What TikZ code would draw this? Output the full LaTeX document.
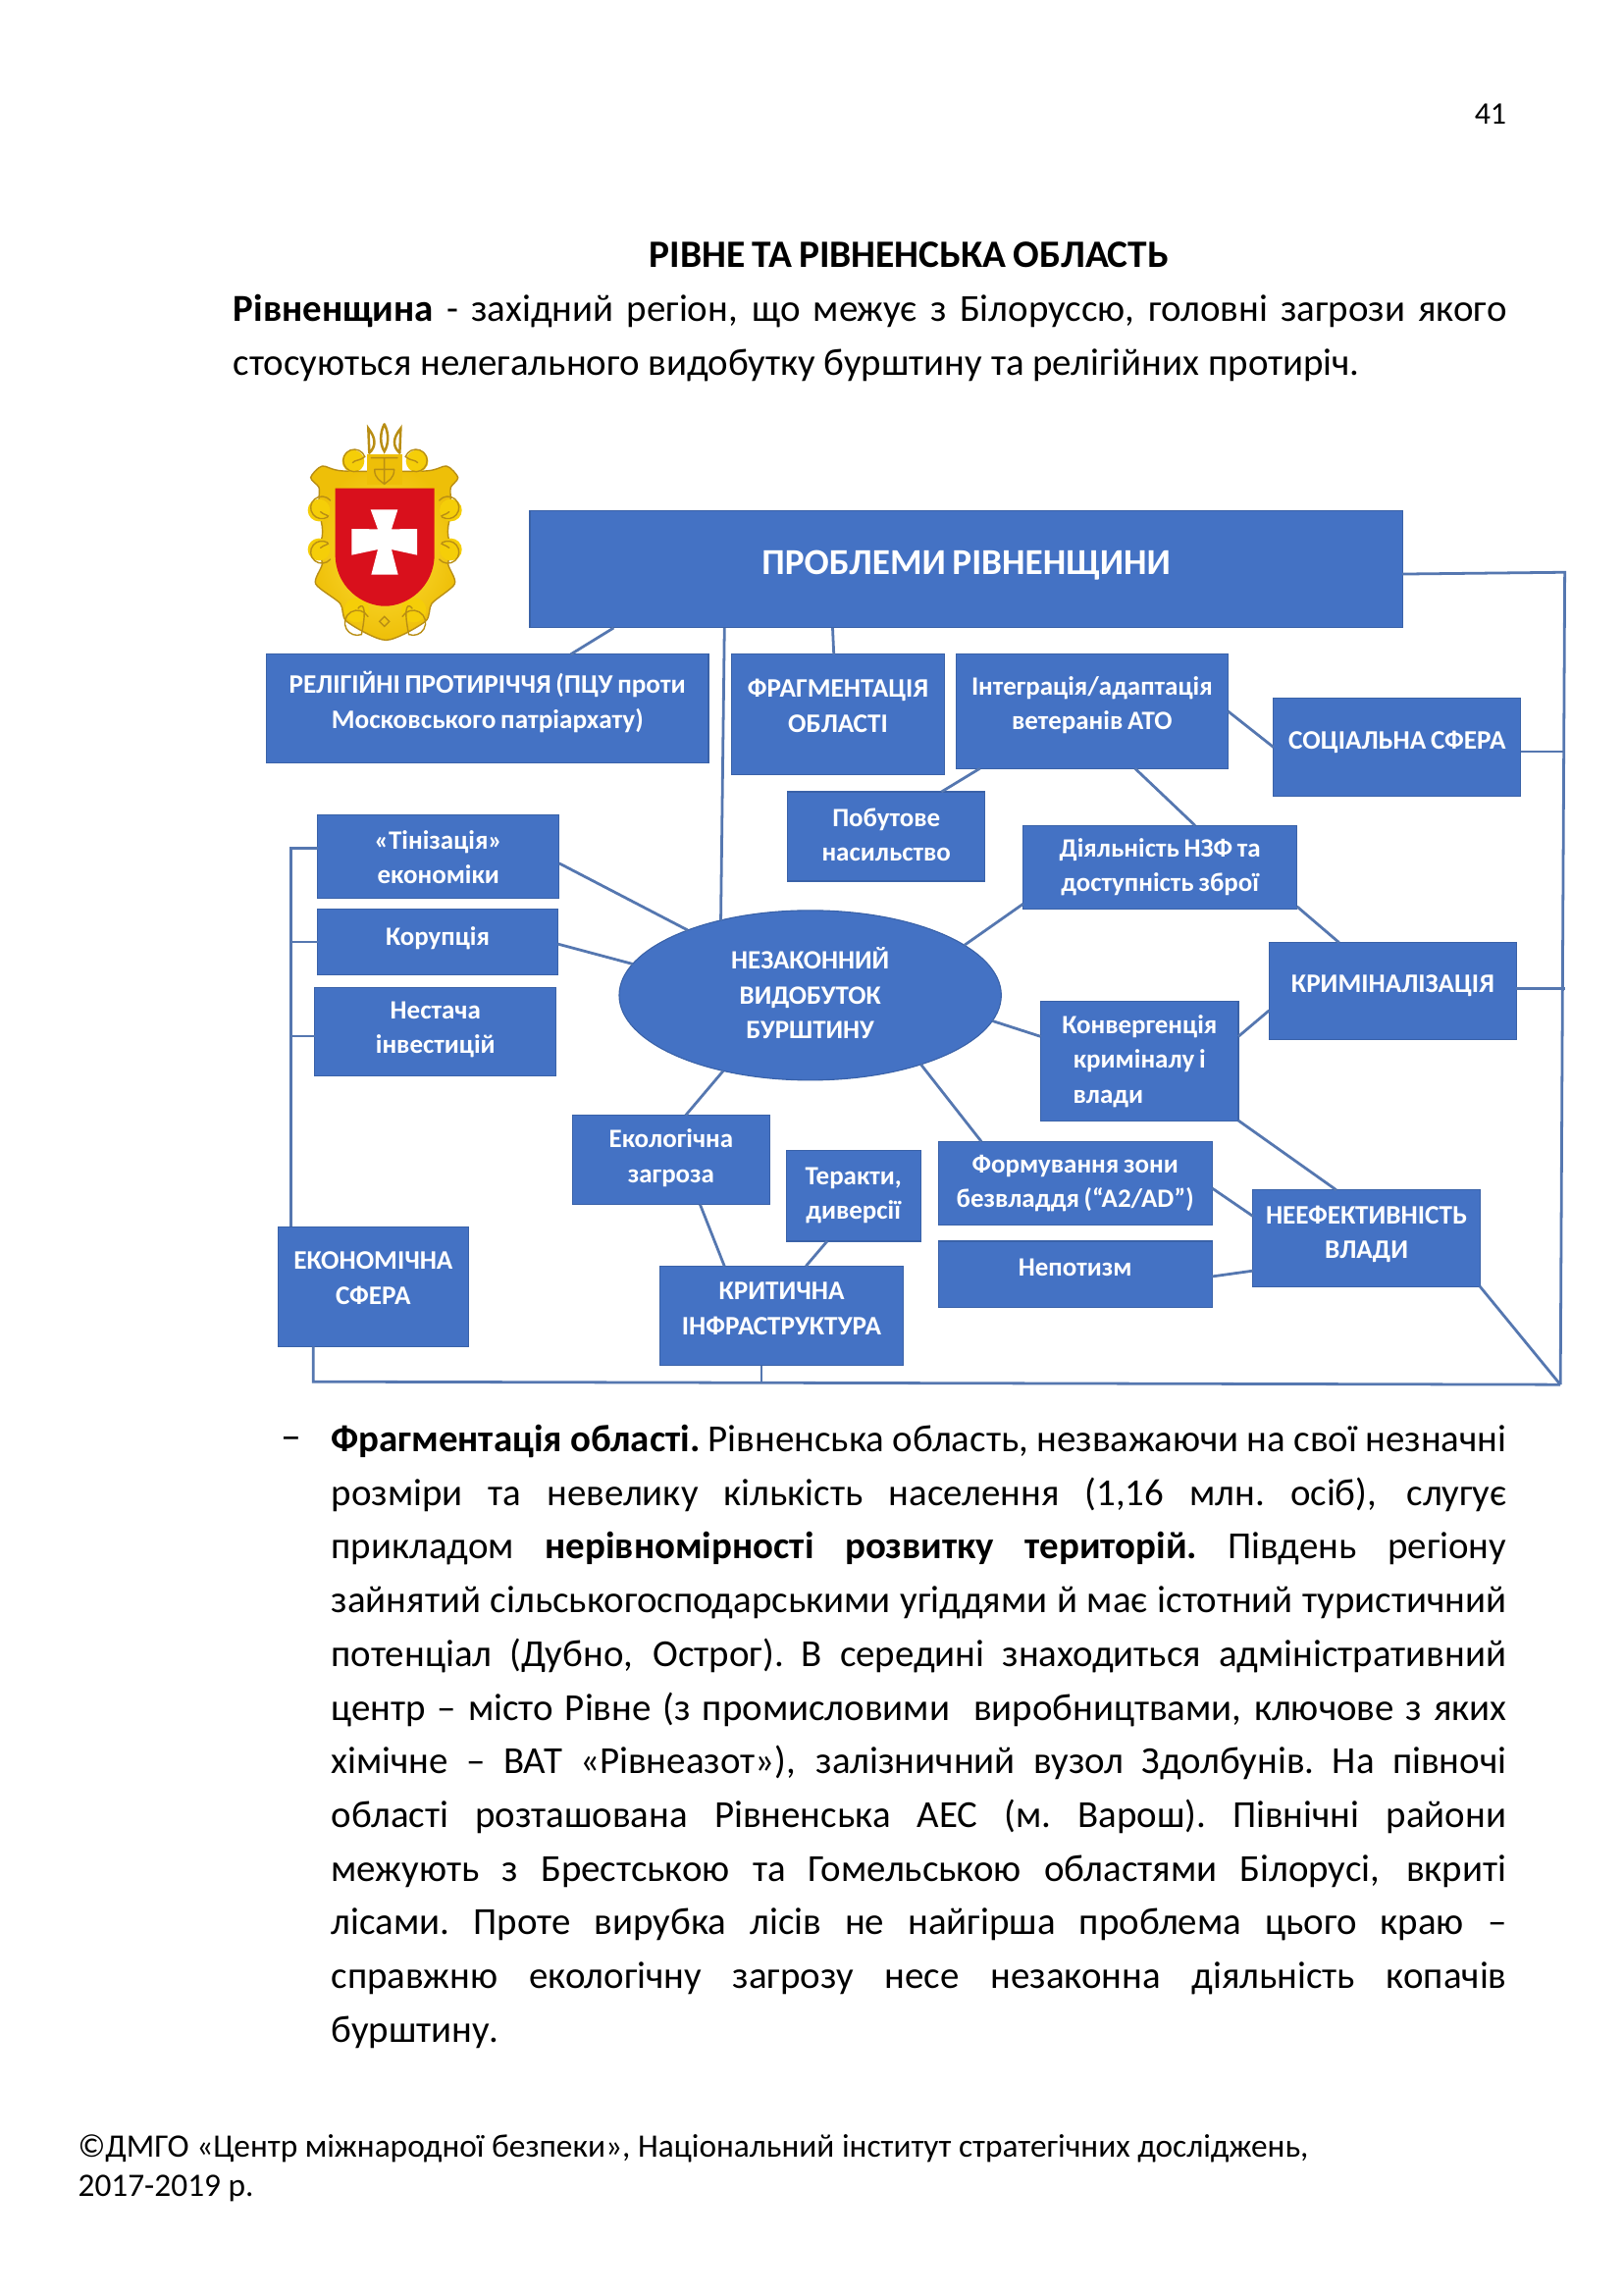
\documentclass[tikz,border=0pt]{standalone}
\usepackage{fontspec}
\setmainfont{Carlito}[WordSpace={.78,1.5,1}]
\usetikzlibrary{positioning,calc,shapes.geometric}
\definecolor{BoxBlue}{HTML}{4472C4}
\definecolor{BoxEdge}{HTML}{3A62A8}
\definecolor{LinkBlue}{HTML}{5577B0}
\definecolor{ShieldRed}{HTML}{D9101C}
\definecolor{Gold}{HTML}{F5CE08}
\definecolor{GoldLight}{HTML}{FFE13C}
\definecolor{GoldDark}{HTML}{EEBF08}
\definecolor{GoldEdge}{HTML}{B98E14}
\newcommand{\tightspace}{\spaceskip=.226em plus .4em minus .06em\xspaceskip=\spaceskip}
\newcommand{\justline}[2][431pt]{\hbox to #1{\tightspace #2}}
\tikzset{
  box size/.style 2 args={minimum width=#1*.5368pt,minimum height=#2*.5368pt},
  problem node/.style={draw=BoxEdge,fill=BoxBlue,align=center,text=white,
    font=\fontsize{9.7}{12.7}\selectfont\bfseries,inner sep=0pt,outer sep=0pt},
  sphere node/.style={problem node,font=\fontsize{9.8}{12.9}\selectfont\bfseries},
  problem head/.style={problem node,font=\fontsize{13.4}{17}\selectfont\bfseries},
  link/.style={draw=LinkBlue,line width=1pt},
  page text/.style={anchor=north west,inner sep=0pt,align=left,
    font=\fontsize{14}{19.7}\selectfont},
  foot text/.style={anchor=north west,inner sep=0pt,align=left,
    font=\fontsize{12}{14.5}\selectfont},
  gold part/.style={draw=GoldEdge,line width=.5pt,inner color=GoldLight,outer color=GoldDark},
  gold line/.style={draw=GoldEdge,line width=.5pt,line cap=round}
}
\begin{document}
\begin{tikzpicture}[x=.5368pt,y=-.5368pt]
  \useasboundingbox (0,0) rectangle (1109,1568);
  \fill[white] (0,0) rectangle (1109,1568);
  \node[anchor=east,inner sep=0pt,font=\fontsize{11.5}{14}\selectfont] (pagenum) at (1029.5,78) {41};
  \node[inner sep=0pt,font=\fontsize{14.2}{17}\selectfont\bfseries] (heading) at (621,174) {РІВНЕ ТА РІВНЕНСЬКА ОБЛАСТЬ};
  \node[page text,text width=467pt] (intro) at (159,201) {%
    \justline[467pt]{\textbf{Рівненщина} - західний регіон, що межує з Білоруссю, головні загрози якого}
    \justline[467pt]{стосуються нелегального видобутку бурштину та релігійних протиріч.\hfil}};

  \begin{scope}[shift={(201.1,284.9)},x=.12pt,y=-.12pt]
    \draw[gold line,line width=.9pt] (229,110) .. controls (250,90) and (250,65) .. (226,35) -- (229,110)
      (322,110) .. controls (300,90) and (300,65) .. (325,35) -- (322,110)
      (275,22) .. controls (260,50) and (262,85) .. (275,105) .. controls (288,85) and (290,50) .. (275,22);
    \path[gold part] plot[smooth cycle,tension=.45] coordinates {(85,150) (150,165) (400,165) (465,150) (500,185)
      (478,215) (478,250) (480,285) (470,335) (470,365) (480,405) (470,450) (490,510)
      (420,570) (400,625) (280,682) (160,625) (140,570) (65,510) (85,450) (75,405)
      (85,365) (85,335) (75,285) (75,250) (75,215) (50,185)};
    \fill[Gold] (180,135) circle (34) (375,135) circle (34)
      (75,285) circle (34) (478,285) circle (34) (75,405) circle (34) (478,405) circle (34)
      (190,590) circle (38) (365,590) circle (38);
    \draw[gold line] (195,165) arc[start angle=70,end angle=340,radius=34] .. controls (200,135) and (185,130) .. (178,140)
      (360,165) arc[start angle=110,end angle=-160,radius=34] .. controls (355,135) and (370,130) .. (377,140)
      (110,255) arc[start angle=-40,end angle=-300,radius=34] .. controls (110,300) and (90,300) .. (80,290)
      (443,255) arc[start angle=220,end angle=480,radius=34] .. controls (443,300) and (463,300) .. (473,290)
      (110,435) arc[start angle=40,end angle=300,radius=34] .. controls (110,390) and (90,390) .. (80,400)
      (443,435) arc[start angle=140,end angle=-120,radius=34] .. controls (443,390) and (463,390) .. (473,400)
      (225,610) arc[start angle=-30,end angle=-290,radius=38] .. controls (225,570) and (205,570) .. (195,585)
      (330,610) arc[start angle=210,end angle=470,radius=38] .. controls (330,570) and (350,570) .. (360,585);
    \fill[GoldDark] (222,115) rectangle (330,208);
    \draw[gold line] (235,125) -- (315,125) (275,125) -- (275,205) (245,160) -- (305,160)
      (245,160) .. controls (245,190) and (265,195) .. (275,205) .. controls (285,195) and (305,190) .. (305,160);
    \draw[gold line] (275,610) -- (290,625) -- (275,640) -- (260,625) -- cycle;
    \fill[ShieldRed] (125,218) -- (428,218) -- (428,420) .. controls (428,520) and (345,578) .. (277,578)
      .. controls (208,578) and (125,520) .. (125,420) -- cycle;
    \fill[white] (233,283) -- (316,283) -- (297,343) -- (375,342) -- (375,422) -- (297,405) -- (317,482)
      -- (235,482) -- (255,405) -- (175,422) -- (175,342) -- (255,343) -- cycle;
  \end{scope}

  \node[problem head,box size={596}{80},text depth=5pt] (head) at (660,389) {ПРОБЛЕМИ РІВНЕНЩИНИ};
  \node[sphere node,box size={302}{74},text depth=6pt] (church) at (333,484) {РЕЛІГІЙНІ ПРОТИРІЧЧЯ (ПЦУ проти\\Московського патріархату)};
  \node[sphere node,box size={145}{82},text depth=6pt] (fragment) at (572.5,488) {ФРАГМЕНТАЦІЯ\\ОБЛАСТІ};
  \node[problem node,box size={186}{78},text depth=6pt] (veterans) at (746,486) {Інтеграція/адаптація\\ветеранів АТО};
  \node[sphere node,box size={169}{67},text depth=5.5pt] (social) at (954.5,510.5) {СОЦІАЛЬНА СФЕРА};
  \node[problem node,box size={135}{61},text depth=1.5pt] (domestic) at (605.5,571.5) {Побутове\\насильство};
  \node[problem node,box size={165}{57}] (shadow) at (299.5,585.5) {«Тінізація»\\економіки};
  \node[problem node,box size={164}{45},text depth=4.5pt] (corruption) at (299,643.5) {Корупція};
  \node[problem node,box size={165}{60},text depth=3pt] (invest) at (297.5,705) {Нестача\\інвестицій};
  \node[problem node,box size={187}{57}] (arms) at (792.5,592.5) {Діяльність НЗФ та\\доступність зброї};
  \node[sphere node,box size={169}{66},text depth=5.5pt] (crime) at (951.5,677) {КРИМІНАЛІЗАЦІЯ};
  \node[problem node,ellipse,box size={261}{116},text depth=1.6pt] (amber) at (553.5,680) {НЕЗАКОННИЙ\\ВИДОБУТОК\\БУРШТИНУ};
  \node[problem node,box size={135}{82}] (converge) at (778.5,725) {Конвергенція\\криміналу і\\влади\hspace*{23pt}};
  \node[problem node,box size={135}{61},text depth=3pt] (ecology) at (458.5,792.5) {Екологічна\\загроза};
  \node[problem node,box size={92}{62}] (terror) at (583,817) {Теракти,\\диверсії};
  \node[problem node,box size={187}{57}] (anarchy) at (734.5,808.5) {Формування зони\\безвладдя (“A2/AD”)};
  \node[problem node,box size={187}{45},text depth=5pt] (nepotism) at (734.5,870.5) {Непотизм};
  \node[sphere node,box size={155}{66},text depth=4.5pt] (power) at (933.5,846) {НЕЕФЕКТИВНІСТЬ\\ВЛАДИ};
  \node[sphere node,box size={130}{82},text depth=6.5pt] (economy) at (255,879) {ЕКОНОМІЧНА\\СФЕРА};
  \node[sphere node,box size={166}{68},text depth=5.5pt] (infra) at (534,899) {КРИТИЧНА\\ІНФРАСТРУКТУРА};

  \coordinate (busright) at (1069,391);
  \coordinate (buscorner) at (1066,946);
  \coordinate (busbottom) at (214,944);

  \draw[link] ($(head.south west)!.096!(head.south east)$) -- (church.33);
  \draw[link] ($(head.south west)!.223!(head.south east)$) -- (amber.140.4);
  \draw[link] ($(head.south west)!.347!(head.south east)$) -- (fragment.94.9);
  \draw[link] (veterans.-153.4) -- (domestic.39.1);
  \draw[link] (veterans.-53.4) -- (arms.50.5);
  \draw[link] (veterans.0) -- (social.180);
  \draw[link] (arms.-165.3) -- (amber.18.5);
  \draw[link] (arms.-16.9) -- (crime.138.6);
  \draw[link] (shadow.-3.1) -- (amber.152.2);
  \draw[link] (corruption.-1) -- (amber.170.7);
  \draw[link] (amber.-8.3) -- (converge.166.7);
  \draw[link] (converge.14.1) -- (crime.-171.9);
  \draw[link] (converge.-31.3) -- (power.122);
  \draw[link] (amber.-32.2) -- (anarchy.156);
  \draw[link] (amber.-139.9) -- (ecology.72.7);
  \draw[link] (ecology.-57.4) -- (infra.139.6);
  \draw[link] (terror.-120.1) -- (infra.64.8);
  \draw[link] (anarchy.-2.1) -- (power.169);
  \draw[link] (nepotism.-1) -- (power.-164.8);
  \draw[link] (power.-23.1) -- (buscorner);
  \draw[link] ($(head.south east)!.46!(head.north east)$) -- (busright) -- (buscorner);
  \draw[link] (social.-2.4) -- (social.-2.4 -| busright);
  \draw[link] (crime.1.4) -- (crime.1.4 -| busright);
  \draw[link] (economy.-135) -- (busbottom) -- (buscorner);
  \draw[link] (infra.-112.4) -- (infra.-112.4 |- busbottom);
  \draw[link] (shadow.176.9) -| (economy.144.3);
  \draw[link] (corruption.180) -- (corruption.180 -| economy.144.3);
  \draw[link] (invest.182.8) -- (invest.182.8 -| economy.144.3);

  \node[inner sep=0pt,font=\fontsize{15}{18}\selectfont] (dash) at (199,986) {–};
  \node[page text,text width=431pt] (fragtext) at (226,973) {%
    \justline{\textbf{Фрагментація області.} Рівненська область, незважаючи на свої незначні}
    \justline{розміри та невелику кількість населення (1,16 млн. осіб), слугує}
    \justline{прикладом \textbf{нерівномірності розвитку територій.} Південь регіону}
    \justline{зайнятий сільськогосподарськими угіддями й має істотний туристичний}
    \justline{потенціал (Дубно, Острог). В середині знаходиться адміністративний}
    \justline{центр – місто Рівне (з промисловими\ \ виробництвами, ключове з яких}
    \justline{хімічне – ВАТ «Рівнеазот»), залізничний вузол Здолбунів. На півночі}
    \justline{області розташована Рівненська АЕС (м. Варош). Північні райони}
    \justline{межують з Брестською та Гомельською областями Білорусі, вкриті}
    \justline{лісами. Проте вирубка лісів не найгірша проблема цього краю –}
    \justline{справжню екологічну загрозу несе незаконна діяльність копачів}
    \justline{бурштину.\hfil}};
  \node[foot text,text width=500pt] (footer) at (53,1458) {%
    \justline[500pt]{©ДМГО «Центр міжнародної безпеки», Національний інститут стратегічних досліджень,\hfil}
    \justline[500pt]{2017-2019 р.\hfil}};
\end{tikzpicture}
\end{document}
